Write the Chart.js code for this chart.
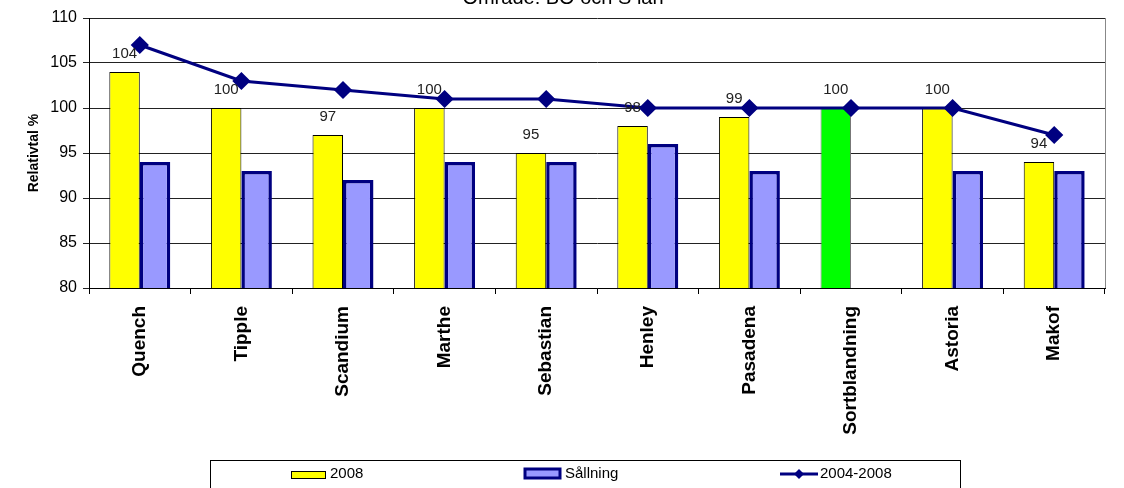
<!DOCTYPE html>
<html lang="sv">
<head>
<meta charset="UTF-8">
<title>Relativtal</title>
<script src="https://cdn.jsdelivr.net/npm/chart.js"></script>
<style>
  html, body { margin: 0; padding: 0; background: #fff; }
  #wrap { width: 1124px; height: 488px; }
</style>
</head>
<body>
<div id="wrap"><canvas id="chart" width="1124" height="488"></canvas></div>
<script>
// data
var categories = ['Quench', 'Tipple', 'Scandium', 'Marthe', 'Sebastian', 'Henley', 'Pasadena', 'Sortblandning', 'Astoria', 'Makof'];
var values2008 = [104, 100, 97, 100, 95, 98, 99, 100, 100, 94];
var valuesSallning = [94, 93, 92, 94, 94, 96, 93, null, 93, 93];
var values20042008 = [107, 103, 102, 101, 101, 100, 100, 100, 100, 97];
var yTicks = [80, 85, 90, 95, 100, 105, 110];
var titleText = 'Område: BO och S län';
var yTitle = 'Relativtal %';
var highlight = 'Sortblandning';

// colours
var yellow = '#FFFF00', green = '#00FF00', navy = '#000080', lilac = '#9999FF';

var yellowBg = categories.map(function (c) { return c === highlight ? green : yellow; });
var yellowBorder = categories.map(function (c) { return c === highlight ? '#777' : '#000'; });

// value labels above the 2008 bars + title + custom legend + right frame
var extras = {
    id: 'extras',
    afterDatasetsDraw: function (chart) {
        var ctx = chart.ctx;
        var meta = chart.getDatasetMeta(1);
        ctx.save();
        ctx.font = '15px Arial, "Liberation Sans"';
        ctx.fillStyle = '#222';
        ctx.textAlign = 'center';
        ctx.textBaseline = 'alphabetic';
        meta.data.forEach(function (bar, i) {
            ctx.fillText(values2008[i], bar.x, bar.y - 14);
        });
        ctx.restore();
    },
    afterDraw: function (chart) {
        var ctx = chart.ctx;
        var area = chart.chartArea;
        ctx.save();
        // right frame of plot area
        ctx.strokeStyle = '#888';
        ctx.lineWidth = 1;
        ctx.beginPath();
        ctx.moveTo(Math.round(area.right) + 0.5, area.top);
        ctx.lineTo(Math.round(area.right) + 0.5, area.bottom);
        ctx.stroke();

        // title (cut at the top like the original)
        ctx.fillStyle = '#000';
        ctx.font = '20px Arial, "Liberation Sans"';
        ctx.textAlign = 'center';
        ctx.textBaseline = 'alphabetic';
        ctx.fillText(titleText, 563, 4);

        // legend box
        ctx.strokeStyle = '#000';
        ctx.lineWidth = 1;
        ctx.strokeRect(210.5, 460.5, 750, 40);
        var ds = chart.data.datasets;
        var cy = 474;
        ctx.font = '15px Arial, "Liberation Sans"';
        ctx.textAlign = 'left';
        ctx.textBaseline = 'middle';
        // 2008
        ctx.fillStyle = yellow;
        ctx.fillRect(291, 471, 34, 7);
        ctx.strokeStyle = '#000';
        ctx.strokeRect(291.5, 471.5, 34, 7);
        ctx.fillStyle = '#000';
        ctx.fillText(ds[1].label, 330, cy);
        // Sållning
        ctx.fillStyle = lilac;
        ctx.strokeStyle = navy;
        ctx.lineWidth = 3;
        ctx.fillRect(525, 469, 35, 9);
        ctx.strokeRect(525, 469, 35, 9);
        ctx.fillStyle = '#000';
        ctx.fillText(ds[2].label, 565, cy);
        // 2004-2008
        ctx.strokeStyle = navy;
        ctx.lineWidth = 3;
        ctx.beginPath();
        ctx.moveTo(780, cy);
        ctx.lineTo(818, cy);
        ctx.stroke();
        ctx.fillStyle = navy;
        ctx.beginPath();
        ctx.moveTo(799, cy - 5);
        ctx.lineTo(804, cy);
        ctx.lineTo(799, cy + 5);
        ctx.lineTo(794, cy);
        ctx.closePath();
        ctx.fill();
        ctx.fillStyle = '#000';
        ctx.fillText(ds[0].label, 820, cy);
        ctx.restore();
    }
};

var ctx = document.getElementById('chart').getContext('2d');
var chart = new Chart(ctx, {
    type: 'bar',
    data: {
        labels: categories,
        datasets: [{
            type: 'line',
            label: '2004-2008',
            data: values20042008,
            borderColor: navy,
            borderWidth: 3,
            backgroundColor: navy,
            pointStyle: 'rectRot',
            pointRadius: 7,
            pointHoverRadius: 7,
            pointBackgroundColor: navy,
            pointBorderColor: navy,
            tension: 0,
            fill: false,
            order: 0
        }, {
            label: '2008',
            data: values2008,
            backgroundColor: yellowBg,
            borderColor: yellowBorder,
            borderWidth: 1,
            borderSkipped: 'bottom',
            categoryPercentage: 0.6,
            barPercentage: 1,
            order: 1
        }, {
            label: 'Sållning',
            data: valuesSallning,
            backgroundColor: lilac,
            borderColor: navy,
            borderWidth: 3.5,
            borderSkipped: false,
            categoryPercentage: 0.6,
            barPercentage: 1,
            order: 1
        }]
    },
    options: {
        responsive: false,
        animation: false,
        layout: { padding: { top: 18, right: 19, bottom: 0, left: 0 } },
        plugins: {
            legend: { display: false },
            tooltip: { enabled: false },
            title: { display: false }
        },
        scales: {
            x: {
                offset: true,
                grid: {
                    offset: true,
                    drawOnChartArea: false,
                    drawTicks: true,
                    tickLength: 6,
                    color: '#000'
                },
                border: { color: '#000', width: 1 },
                ticks: {
                    minRotation: 90,
                    maxRotation: 90,
                    autoSkip: false,
                    padding: 12,
                    color: '#000',
                    font: { family: 'Arial, "Liberation Sans"', size: 19, weight: 'bold' }
                },
                afterFit: function (scale) { scale.height = 200; }
            },
            y: {
                min: yTicks[0],
                max: yTicks[yTicks.length - 1],
                afterBuildTicks: function (scale) {
                    scale.ticks = yTicks.map(function (v) { return { value: v }; });
                },
                grid: {
                    color: '#222',
                    lineWidth: 1,
                    drawTicks: true,
                    tickLength: 6
                },
                border: { color: '#000', width: 1 },
                ticks: {
                    padding: 6,
                    color: '#000',
                    font: { family: 'Arial, "Liberation Sans"', size: 16 }
                },
                title: {
                    display: true,
                    text: yTitle,
                    color: '#000',
                    font: { family: 'Arial, "Liberation Sans"', size: 14, weight: 'bold' },
                    padding: { top: 26, bottom: 0 }
                },
                afterFit: function (scale) { scale.width = 89; }
            }
        }
    },
    plugins: [extras]
});
</script>
</body>
</html>
